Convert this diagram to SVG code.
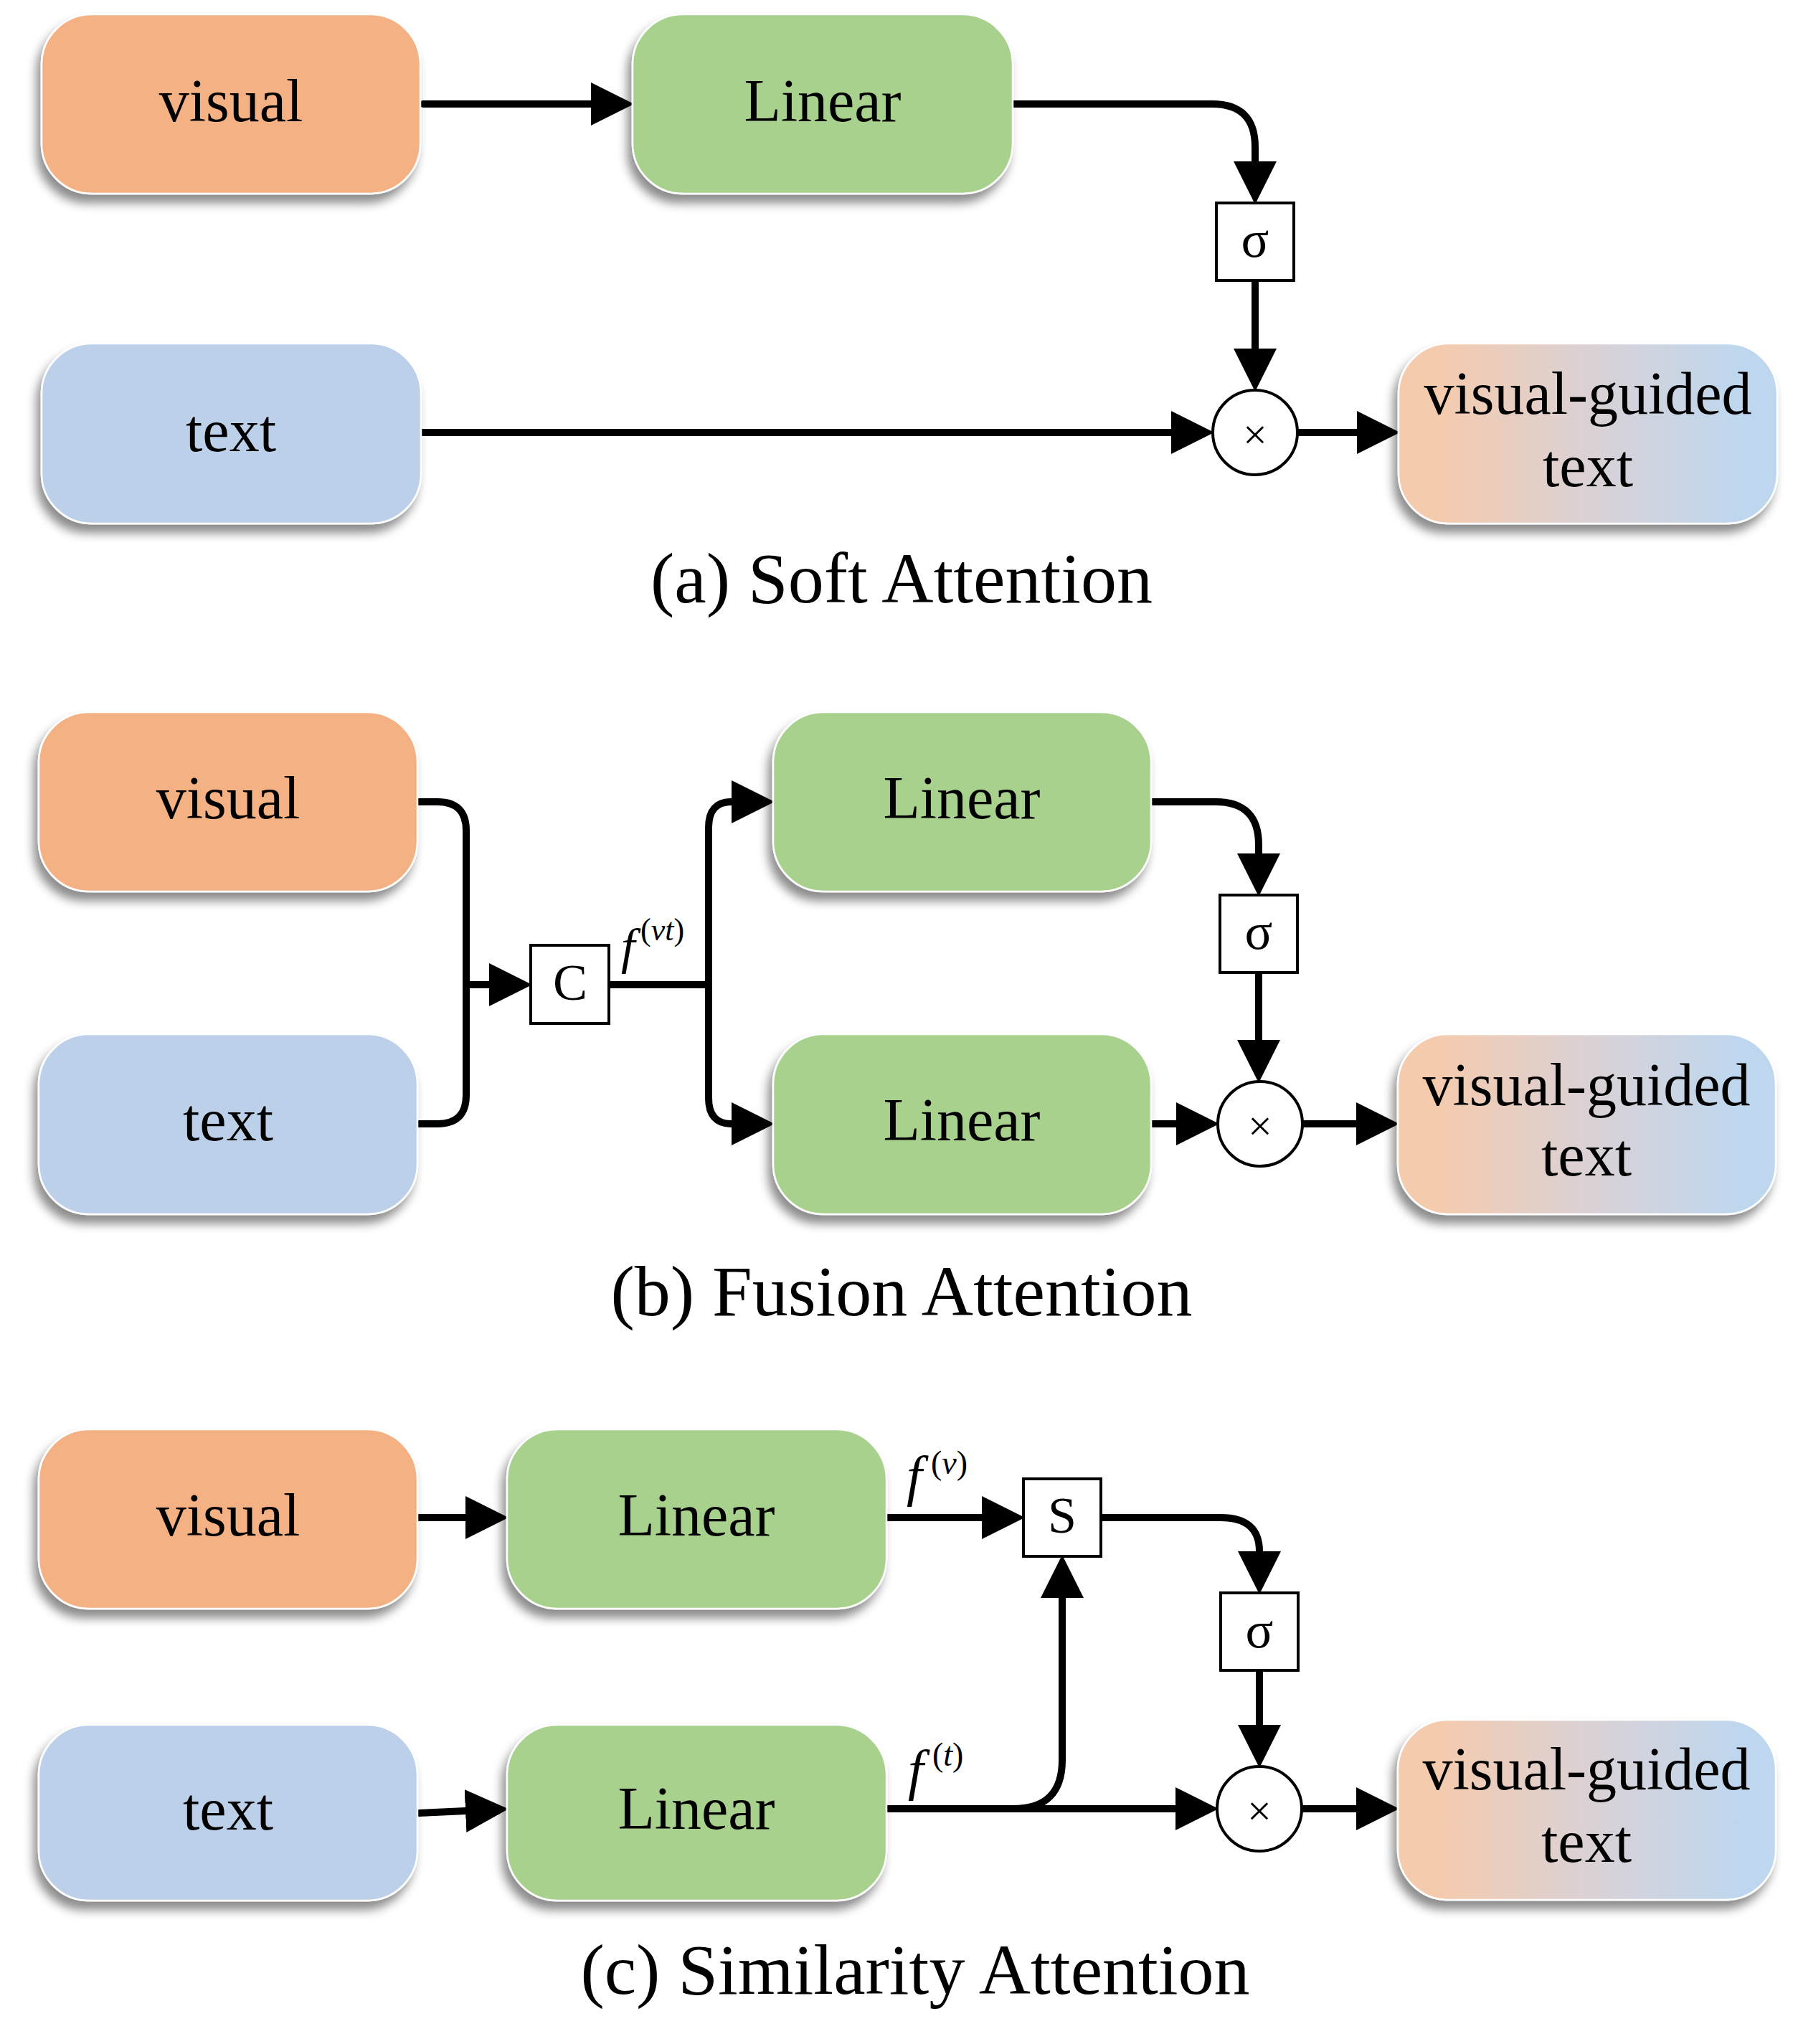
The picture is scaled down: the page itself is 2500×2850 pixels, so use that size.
<svg xmlns="http://www.w3.org/2000/svg" width="2500" height="2850" viewBox="0 0 2500 2850">
<style>
.bx{stroke:#ffffff;stroke-width:2.5;filter:url(#sh)}
.vis{fill:#F4B183}
.txt{fill:#BCD0E9}
.lin{fill:#A9D18E}
.vg{fill:url(#grad)}
.op{fill:#ffffff;stroke:#000;stroke-width:4}
.lbl{font-family:"Liberation Serif","Times New Roman",serif;font-size:84px;text-anchor:middle;fill:#000}
.opl{font-family:"Liberation Serif","Times New Roman",serif;font-size:72px;text-anchor:middle;fill:#000}
.mul{font-family:"Liberation Serif","Times New Roman",serif;font-size:60px;text-anchor:middle;fill:#000}
.cap{font-family:"Liberation Serif","Times New Roman",serif;font-size:100px;text-anchor:middle;fill:#000}
.fl{font-family:"Liberation Serif","Times New Roman",serif;fill:#000}
.c{fill:none;stroke:#000;stroke-width:10;stroke-linecap:round;stroke-linejoin:round}
.a{marker-end:url(#ah)}
</style>
<defs>
<filter id="sh" x="-20%" y="-20%" width="140%" height="150%">
<feDropShadow dx="-6" dy="12" stdDeviation="7" flood-color="#000" flood-opacity="0.45"/>
</filter>
<linearGradient id="grad" x1="0" y1="0" x2="1" y2="0">
<stop offset="0.1" stop-color="#F5CBAD"/>
<stop offset="0.5" stop-color="#DBD1D5"/>
<stop offset="0.9" stop-color="#BED7EE"/>
</linearGradient>
<marker id="ah" markerUnits="userSpaceOnUse" markerWidth="60" markerHeight="60" viewBox="0 0 58 58" refX="0" refY="29" orient="auto">
<path d="M0,0 L58,29 L0,58 Z" fill="#000"/>
</marker>
</defs>
<rect width="2500" height="2850" fill="#ffffff"/>

<g id="connectors">
<!-- panel a -->
<path class="c a" d="M590,145 H824"/>
<path class="c a" d="M1414,145 H1690 Q1750,145 1750,205 V225"/>
<path class="c a" d="M1750,391 V486"/>
<path class="c a" d="M589,603 H1633"/>
<path class="c a" d="M1809,603 H1892"/>
<!-- panel b -->
<path class="c" d="M584,1118 H610 Q650,1118 650,1158 V1527 Q650,1567 610,1567 H584"/>
<path class="c a" d="M650,1373 H682"/>
<path class="c" d="M849,1373 H988"/>
<path class="c a" d="M988,1373 V1154 Q988,1118 1020,1118"/>
<path class="c a" d="M988,1373 V1531 Q988,1567 1020,1567"/>
<path class="c a" d="M1607,1118 H1695 Q1755,1118 1755,1178 V1190"/>
<path class="c a" d="M1755,1356 V1450"/>
<path class="c a" d="M1607,1567 H1640"/>
<path class="c a" d="M1816,1567 H1891"/>
<!-- panel c -->
<path class="c a" d="M584,2116 H649"/>
<path class="c a" d="M584,2528 L649,2525"/>
<path class="c a" d="M1238,2116 H1369"/>
<path class="c a" d="M1537,2116 H1702 Q1756,2116 1756,2163"/>
<path class="c a" d="M1756,2329 V2405"/>
<path class="c a" d="M1238,2522 H1639"/>
<path class="c a" d="M1413,2522 Q1481,2522 1481,2454 V2228"/>
<path class="c a" d="M1815,2522 H1891"/>
</g>

<!-- ===== Panel (a) ===== -->
<g id="a-visual"><rect class="bx vis" x="58" y="20" width="528" height="250" rx="70"/><text class="lbl" x="322" y="169">visual</text></g>
<g id="a-linear"><rect class="bx lin" x="882" y="20" width="530" height="250" rx="70"/><text class="lbl" x="1147" y="169">Linear</text></g>
<g id="a-text"><rect class="bx txt" x="58" y="479" width="529" height="251" rx="70"/><text class="lbl" x="322" y="629">text</text></g>
<g id="a-sigma"><rect class="op" x="1696" y="283" width="108" height="108"/><text class="opl" x="1750" y="358">σ</text></g>
<g id="a-mul"><circle class="op" cx="1750" cy="603" r="59"/><text class="mul" x="1750" y="626">×</text></g>
<g id="a-vg"><rect class="bx vg" x="1950" y="479" width="528" height="251" rx="70"/><text class="lbl" x="2214" y="577">visual-guided</text><text class="lbl" x="2214" y="678">text</text></g>
<g id="a-caption"><text class="cap" x="1257" y="840">(a) Soft Attention</text></g>

<!-- ===== Panel (b) ===== -->
<g id="b-visual"><rect class="bx vis" x="54" y="993" width="528" height="250" rx="70"/><text class="lbl" x="318" y="1141">visual</text></g>
<g id="b-text"><rect class="bx txt" x="54" y="1442" width="528" height="251" rx="70"/><text class="lbl" x="318" y="1590">text</text></g>
<g id="b-concat"><rect class="op" x="740" y="1318" width="109" height="109"/><text class="opl" x="795" y="1394">C</text></g>
<g id="b-fvt"><text class="fl" x="866" y="1343" font-size="70" font-style="italic">f</text><text class="fl" x="893" y="1311" font-size="44">(<tspan font-style="italic">vt</tspan>)</text></g>
<g id="b-linear1"><rect class="bx lin" x="1078" y="993" width="527" height="250" rx="70"/><text class="lbl" x="1341" y="1141">Linear</text></g>
<g id="b-linear2"><rect class="bx lin" x="1078" y="1442" width="527" height="251" rx="70"/><text class="lbl" x="1341" y="1590">Linear</text></g>
<g id="b-sigma"><rect class="op" x="1701" y="1248" width="108" height="108"/><text class="opl" x="1755" y="1323">σ</text></g>
<g id="b-mul"><circle class="op" cx="1757" cy="1567" r="59"/><text class="mul" x="1757" y="1590">×</text></g>
<g id="b-vg"><rect class="bx vg" x="1949" y="1442" width="527" height="251" rx="70"/><text class="lbl" x="2212" y="1541">visual-guided</text><text class="lbl" x="2212" y="1639">text</text></g>
<g id="b-caption"><text class="cap" x="1257" y="1834">(b) Fusion Attention</text></g>

<!-- ===== Panel (c) ===== -->
<g id="c-visual"><rect class="bx vis" x="54" y="1993" width="528" height="250" rx="70"/><text class="lbl" x="318" y="2141">visual</text></g>
<g id="c-linear1"><rect class="bx lin" x="707" y="1993" width="529" height="250" rx="70"/><text class="lbl" x="971" y="2141">Linear</text></g>
<g id="c-text"><rect class="bx txt" x="54" y="2405" width="528" height="245" rx="70"/><text class="lbl" x="318" y="2551">text</text></g>
<g id="c-linear2"><rect class="bx lin" x="707" y="2405" width="529" height="245" rx="70"/><text class="lbl" x="971" y="2550">Linear</text></g>
<g id="c-fv"><text class="fl" x="1264" y="2084" font-size="78" font-style="italic">f</text><text class="fl" x="1298" y="2055" font-size="46">(<tspan font-style="italic">v</tspan>)</text></g>
<g id="c-ft"><text class="fl" x="1266" y="2494" font-size="78" font-style="italic">f</text><text class="fl" x="1300" y="2462" font-size="46">(<tspan font-style="italic">t</tspan>)</text></g>
<g id="c-sim"><rect class="op" x="1427" y="2062" width="108" height="108"/><text class="opl" x="1481" y="2137">S</text></g>
<g id="c-sigma"><rect class="op" x="1702" y="2221" width="108" height="108"/><text class="opl" x="1756" y="2297">σ</text></g>
<g id="c-mul"><circle class="op" cx="1756" cy="2522" r="59"/><text class="mul" x="1756" y="2545">×</text></g>
<g id="c-vg"><rect class="bx vg" x="1949" y="2398" width="527" height="251" rx="70"/><text class="lbl" x="2212" y="2495">visual-guided</text><text class="lbl" x="2212" y="2596">text</text></g>
<g id="c-caption"><text class="cap" x="1276" y="2780">(c) Similarity Attention</text></g>
</svg>
